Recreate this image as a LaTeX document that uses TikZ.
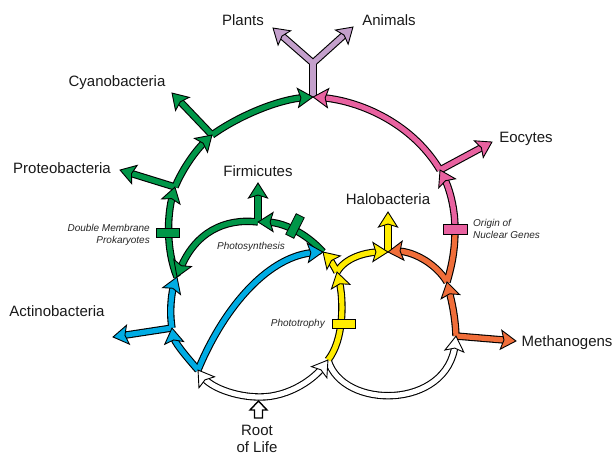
\documentclass[tikz,border=0pt]{standalone}
\usepackage{fontspec}
\setmainfont{Liberation Sans}
\usetikzlibrary{decorations.markings}
\definecolor{cgreen}{RGB}{0,150,72}
\definecolor{cpink}{RGB}{232,98,160}
\definecolor{corange}{RGB}{240,110,58}
\definecolor{cyellow}{RGB}{255,236,0}
\definecolor{cblue}{RGB}{0,172,228}
\definecolor{cpurple}{RGB}{196,160,204}
\pgfdeclarelayer{outlay}
\pgfdeclarelayer{corelay}
\pgfsetlayers{outlay,corelay,main}
\tikzset{
 outl/.style={draw=black, line width=7.4pt},
 core/.style={draw=#1, line width=5.2pt},
 hd/.style={postaction={decorate, decoration={markings, mark=at position 0.999 with {\draw[draw=black, line width=0.9pt, fill=#1, line join=miter, shorten >=0pt, shorten <=0pt] (0pt,0pt) -- (-15pt,9.5pt) -- (-12pt,0pt) -- (-15pt,-9.5pt) -- cycle;}}}},
 lab/.style={font=\fontsize{15}{17}\selectfont, text=black!90, inner sep=1pt},
 note/.style={font=\fontsize{10}{12}\selectfont\itshape, text=black!85, inner sep=1pt},
 mbox/.style={draw=black, line width=0.8pt, fill=#1, minimum width=23pt, minimum height=9pt, inner sep=0pt},
}
\newcommand\tubeH[2]{%
 \begin{pgfonlayer}{outlay}\draw[outl,shorten >=8pt] #2;\end{pgfonlayer}%
 \begin{pgfonlayer}{corelay}\draw[core=#1,shorten >=8pt] #2;\end{pgfonlayer}%
 \path[hd=#1] #2;}
\newcommand\tubeN[2]{%
 \begin{pgfonlayer}{outlay}\draw[outl] #2;\end{pgfonlayer}%
 \begin{pgfonlayer}{corelay}\draw[core=#1] #2;\end{pgfonlayer}}
\begin{document}
\begin{tikzpicture}[x=1pt,y=-1pt]
\useasboundingbox (0,0) rectangle (615,455);
% junctions
\coordinate (Jtop) at (313,97);
\coordinate (fork) at (313,63);
\coordinate (Pl) at (273,28);
\coordinate (An) at (353,27);
\coordinate (Jcy) at (212,135);
\coordinate (Cy) at (172,93);
\coordinate (Jpr) at (175,187);
\coordinate (Pr) at (120,170);
\coordinate (Jgb) at (177,277);
\coordinate (Jact) at (172,328);
\coordinate (Ac) at (113,337);
\coordinate (Jbl) at (198,370);
\coordinate (Jroot) at (260,397);
\coordinate (Jy) at (328,360);
\coordinate (Jph) at (323,252);
\coordinate (Jfi) at (258,222);
\coordinate (Fi) at (258,183);
\coordinate (Jyb) at (337,272);
\coordinate (Jha) at (388,252);
\coordinate (Ha) at (388,212);
\coordinate (Jor) at (447,282);
\coordinate (Jme) at (456,336);
\coordinate (Me) at (516,341);
\coordinate (Jbox) at (455,229);
\coordinate (Jeo) at (440,170);
\coordinate (Eo) at (492,142);

% white
\tubeH{white}{(Jroot) .. controls (235,397) and (210,387) .. (Jbl)}
\tubeH{white}{(Jroot) .. controls (290,397) and (315,378) .. (Jy)}
\tubeH{white}{(Jy) .. controls (342,410) and (448,410) .. (Jme)}
% orange
\tubeN{corange}{(Jor) .. controls (452,265) and (455,250) .. (Jbox)}
\tubeH{corange}{(Jme) .. controls (455,312) and (450,295) .. (Jor)}
\tubeH{corange}{(Jor) .. controls (435,262) and (410,250) .. (Jha)}
\tubeH{corange}{(Jme) -- (Me)}
% pink
\tubeH{cpink}{(Jbox) .. controls (455,205) and (448,185) .. (Jeo)}
\tubeH{cpink}{(Jeo) -- (Eo)}
\tubeH{cpink}{(Jeo) .. controls (410,120) and (355,100) .. (Jtop)}
% purple
\tubeN{cpurple}{(Jtop) -- (fork)}
\tubeH{cpurple}{(fork) -- (Pl)}
\tubeH{cpurple}{(fork) -- (An)}
% green
\tubeH{cgreen}{(Jph) .. controls (305,232) and (282,222) .. (Jfi)}
\tubeH{cgreen}{(Jfi) -- (Fi)}
\tubeH{cgreen}{(Jfi) .. controls (225,218) and (195,232) .. (Jgb)}
\tubeH{cgreen}{(Jgb) .. controls (166,250) and (167,215) .. (Jpr)}
\tubeH{cgreen}{(Jpr) -- (Pr)}
\tubeH{cgreen}{(Jpr) .. controls (183,168) and (196,150) .. (Jcy)}
\tubeH{cgreen}{(Jcy) -- (Cy)}
\tubeH{cgreen}{(Jcy) .. controls (240,115) and (280,99) .. (Jtop)}
% yellow
\tubeH{cyellow}{(Jy) .. controls (344,340) and (344,300) .. (Jyb)}
\tubeH{cyellow}{(Jyb) .. controls (345,258) and (365,252) .. (Jha)}
\tubeH{cyellow}{(Jha) -- (Ha)}
\tubeH{cyellow}{(Jyb) .. controls (332,262) and (327,256) .. (Jph)}
% blue
\tubeH{cblue}{(Jbl) .. controls (185,355) and (174,342) .. (Jact)}
\tubeH{cblue}{(Jact) -- (Ac)}
\tubeH{cblue}{(Jact) .. controls (169,310) and (172,290) .. (Jgb)}
\tubeH{cblue}{(Jbl) .. controls (225,305) and (270,255) .. (Jph)}

% boxes
\node[mbox=cgreen] (bxDM) at (168,233) {};
\node[mbox=cgreen, rotate=63] (bxPS) at (295,226) {};
\node[mbox=cyellow] (bxPT) at (343.5,323.5) {};
\node[mbox=cpink, minimum width=24pt, minimum height=10pt] (bxON) at (455,229) {};

% root arrow
\draw[black, line width=1.4pt, fill=white, line join=miter] (254.5,418) -- (254.5,410) -- (250,410) -- (258.5,401) -- (267,410) -- (262.5,410) -- (262.5,418) -- cycle;

% labels
\node[lab] (tPl) at (243,20) {Plants};
\node[lab] (tAn) at (389,20) {Animals};
\node[lab] (tCy) at (117,83) {Cyanobacteria};
\node[lab] (tPr) at (62,168) {Proteobacteria};
\node[lab] (tFi) at (258,171) {Firmicutes};
\node[lab] (tHa) at (388,199) {Halobacteria};
\node[lab] (tEo) at (526,139) {Eocytes};
\node[lab] (tAc) at (57,311) {Actinobacteria};
\node[lab] (tMe) at (567,343) {Methanogens};
\node[lab, align=center] (tRo) at (257,439) {Root\\of Life};
\node[note, align=right, anchor=east] (tDM) at (151,235) {Double Membrane\\Prokaryotes};
\node[note, align=left, anchor=west] (tON) at (472,229) {Origin of\\Nuclear Genes};
\node[note] (tPS) at (251,247) {Photosynthesis};
\node[note, anchor=east] (tPT) at (326,324) {Phototrophy};
\end{tikzpicture}
\end{document}
